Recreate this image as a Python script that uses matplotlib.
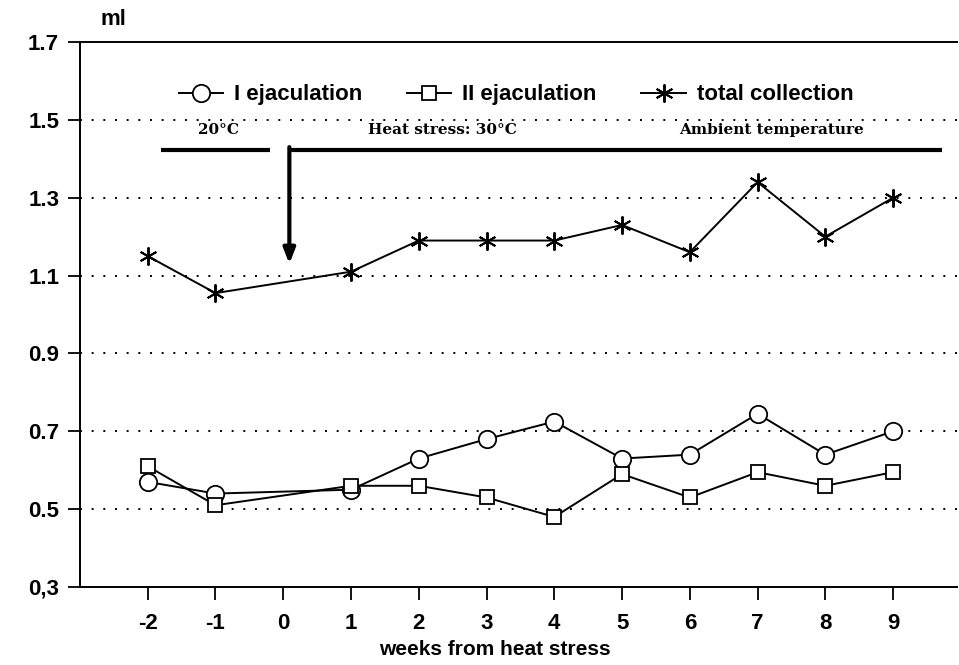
import matplotlib.pyplot as plt

weeks = [-2, -1, 1, 2, 3, 4, 5, 6, 7, 8, 9]
first_ejac = [0.57, 0.54, 0.55, 0.63, 0.68, 0.725, 0.63, 0.64, 0.745, 0.64, 0.70]
second_ejac = [0.61, 0.51, 0.56, 0.56, 0.53, 0.48, 0.59, 0.53, 0.595, 0.56, 0.595]
total = [1.15, 1.055, 1.11, 1.19, 1.19, 1.19, 1.23, 1.16, 1.34, 1.20, 1.30]

x_ticks = [-2, -1, 0, 1, 2, 3, 4, 5, 6, 7, 8, 9]
y_ticks = [0.3, 0.5, 0.7, 0.9, 1.1, 1.3, 1.5, 1.7]
y_tick_labels = ["0,3", "0.5", "0.7", "0.9", "1.1", "1.3", "1.5", "1.7"]
grid_levels = [0.5, 0.7, 0.9, 1.1, 1.3, 1.5]

plt.rcParams["font.family"] = ["Liberation Sans", "DejaVu Sans"]

fig = plt.figure(figsize=(9.59, 6.65), dpi=100)
ax = fig.add_axes([0.0834, 0.1173, 0.915, 0.8195])

for level in grid_levels:
    ax.axhline(level, color="black", linestyle=(0, (1, 5)), linewidth=1.4, zorder=1)

style = dict(color="black", linewidth=1.4, markerfacecolor="white",
             markeredgecolor="black", markeredgewidth=1.3, zorder=3)
l1, = ax.plot(weeks, first_ejac, marker="o", markersize=12.5, **style)
l2, = ax.plot(weeks, second_ejac, marker="s", markersize=10, **style)
l3, = ax.plot(weeks, total, marker=(6, 2, 0), markersize=13, color="black",
              linewidth=1.4, markeredgewidth=1.4, zorder=3)

ax.set_xlim(-3, 9.95)
ax.set_ylim(0.3, 1.7)
ax.set_xticks(x_ticks)
ax.set_xticklabels([str(t) for t in x_ticks])
ax.set_yticks(y_ticks)
ax.set_yticklabels(y_tick_labels)
ax.tick_params(axis="both", direction="out", length=9, width=1.3, labelsize=16, pad=6)
ax.tick_params(axis="x", pad=10)
for lab in ax.get_xticklabels() + ax.get_yticklabels():
    lab.set_fontweight("bold")

ax.spines["right"].set_visible(False)
for side in ("left", "bottom", "top"):
    ax.spines[side].set_linewidth(1.4)

ax.set_xlabel("weeks from heat stress", fontsize=15, fontweight="bold", labelpad=4, x=0.473)
ax.text(-2.7, 1.73, "ml", fontsize=16, fontweight="bold", ha="left", va="bottom")

leg = ax.legend([l1, l2, l3], ["I ejaculation", "II ejaculation", "total collection"],
                loc="center", bbox_to_anchor=(0.497, 0.903), ncol=3, frameon=False,
                prop=dict(size=16, weight="bold"), handlelength=2.0,
                columnspacing=2.0, handletextpad=0.5)

# treatment periods
serif = dict(family=["DejaVu Serif"], weight="bold", size=11)
ax.text(-0.95, 1.474, "20°C", ha="center", va="center", **serif)
ax.text(2.35, 1.474, "Heat stress: 30°C", ha="center", va="center", **serif)
ax.text(7.2, 1.474, "Ambient temperature", ha="center", va="center", **serif)
ax.plot([-1.8, -0.2], [1.423, 1.423], color="black", linewidth=3, solid_capstyle="butt")
ax.plot([0.09, 9.72], [1.423, 1.423], color="black", linewidth=3, solid_capstyle="butt")
ax.annotate("", xy=(0.09, 1.13), xytext=(0.09, 1.43),
            arrowprops=dict(arrowstyle="-|>,head_length=0.9,head_width=0.35",
                            color="black", linewidth=3, shrinkA=0, shrinkB=0))

fig.savefig("out.png", dpi=100)
